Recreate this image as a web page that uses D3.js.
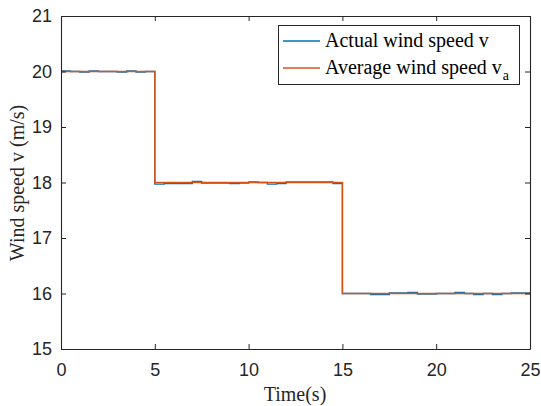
<!DOCTYPE html>
<html>
<head>
<meta charset="utf-8">
<script src="https://cdn.jsdelivr.net/npm/d3@7"></script>
<style>
  html, body { margin: 0; padding: 0; background: #fff; }
  svg { display: block; }
</style>
</head>
<body>
<svg id="chart" width="541" height="406"></svg>
<script>
// Piecewise-constant wind speed samples, one value per 0.5 s interval
const stepTimes = d3.range(0, 25, 0.5);
const actualSpeed = [
  20.01, 20.00, 19.99, 20.01, 20.00, 20.00, 19.99, 20.01, 19.99, 20.00,
  17.97, 17.98, 17.98, 17.98, 18.02, 17.99, 17.99, 17.99, 17.98, 17.99,
  18.01, 18.00, 17.97, 17.98, 18.01, 18.01, 18.01, 18.01, 18.01, 17.98,
  16.00, 16.00, 16.00, 15.98, 15.98, 16.01, 16.01, 16.02, 15.99, 15.99,
  16.00, 16.00, 16.02, 16.00, 15.98, 16.00, 15.98, 16.00, 16.01, 16.01
];
const averageSpeed = [
  20, 20, 20, 20, 20, 20, 20, 20, 20, 20,
  18, 18, 18, 18, 18, 18, 18, 18, 18, 18,
  18, 18, 18, 18, 18, 18, 18, 18, 18, 18,
  16, 16, 16, 16, 16, 16, 16, 16, 16, 16,
  16, 16, 16, 16, 16, 16, 16, 16, 16, 16
];
const xTicks = [0, 5, 10, 15, 20, 25];
const yTicks = [15, 16, 17, 18, 19, 20, 21];

const svg = d3.select("#chart");
const plotLeft = 61, plotRight = 530, plotTop = 16, plotBottom = 349;
const axisColor = "#262626";
const tickFont = "'Liberation Sans', Arial, sans-serif";
const labelFont = "'Liberation Serif', 'Times New Roman', serif";

const x = d3.scaleLinear().domain([0, 25]).range([plotLeft, plotRight]);
const y = d3.scaleLinear().domain([15, 21]).range([plotBottom, plotTop]);

// step series: each sample holds until the next 0.5 s mark
function stepPoints(vals) {
  const pts = vals.map((v, i) => [stepTimes[i], v]);
  pts.push([25, vals[vals.length - 1]]);
  return pts;
}
const line = d3.line().x(d => x(d[0])).y(d => y(d[1])).curve(d3.curveStepAfter);

svg.append("path").datum(stepPoints(actualSpeed))
  .attr("d", line).attr("fill", "none")
  .attr("stroke", "#0072BD").attr("stroke-width", 1.4);
svg.append("path").datum(stepPoints(averageSpeed))
  .attr("d", line).attr("fill", "none")
  .attr("stroke", "#D95319").attr("stroke-width", 1.4);

// axes with inward ticks, boxed
const fmt = d3.format("d");
const gx = svg.append("g").attr("transform", `translate(0,${plotBottom})`)
  .call(d3.axisBottom(x).tickValues(xTicks).tickFormat(fmt).tickSizeInner(-5).tickSizeOuter(0).tickPadding(14));
const gxTop = svg.append("g").attr("transform", `translate(0,${plotTop})`)
  .call(d3.axisTop(x).tickValues(xTicks).tickSizeInner(-5).tickSizeOuter(0).tickFormat(""));
const gy = svg.append("g").attr("transform", `translate(${plotLeft},0)`)
  .call(d3.axisLeft(y).tickValues(yTicks).tickFormat(fmt).tickSizeInner(-5).tickSizeOuter(0).tickPadding(9));
const gyRight = svg.append("g").attr("transform", `translate(${plotRight},0)`)
  .call(d3.axisRight(y).tickValues(yTicks).tickSizeInner(-5).tickSizeOuter(0).tickFormat(""));

[gx, gxTop, gy, gyRight].forEach(g => {
  g.select(".domain").attr("stroke", axisColor).attr("stroke-width", 1.1);
  g.selectAll(".tick line").attr("stroke", axisColor).attr("stroke-width", 1);
  g.selectAll(".tick text").attr("fill", axisColor)
    .style("font-family", tickFont).style("font-size", "18px");
});

// axis titles
svg.append("text").attr("x", 295).attr("y", 401)
  .attr("text-anchor", "middle").attr("fill", axisColor)
  .style("font-family", labelFont).style("font-size", "20px")
  .text("Time(s)");
svg.append("text")
  .attr("transform", "translate(24,183) rotate(-90)")
  .attr("text-anchor", "middle").attr("fill", axisColor)
  .style("font-family", labelFont).style("font-size", "20px")
  .text("Wind speed v (m/s)");

// legend
const legend = svg.append("g");
legend.append("rect").attr("x", 278.5).attr("y", 25.5).attr("width", 241).attr("height", 59)
  .attr("fill", "#fff").attr("stroke", axisColor).attr("stroke-width", 1);
const entries = [
  { color: "#0072BD", text: "Actual wind speed v", sub: null, yy: 41 },
  { color: "#D95319", text: "Average wind speed v", sub: "a", yy: 68 }
];
entries.forEach(e => {
  legend.append("line").attr("x1", 283).attr("x2", 320).attr("y1", e.yy).attr("y2", e.yy)
    .attr("stroke", e.color).attr("stroke-width", 1.3);
  const t = legend.append("text").attr("x", 325).attr("y", e.yy + 6)
    .attr("fill", "#000").style("font-family", labelFont).style("font-size", "20px")
    .text(e.text);
  if (e.sub) {
    t.append("tspan").attr("dx", 1).attr("dy", 6).style("font-size", "14px").text(e.sub);
  }
});
</script>
</body>
</html>
